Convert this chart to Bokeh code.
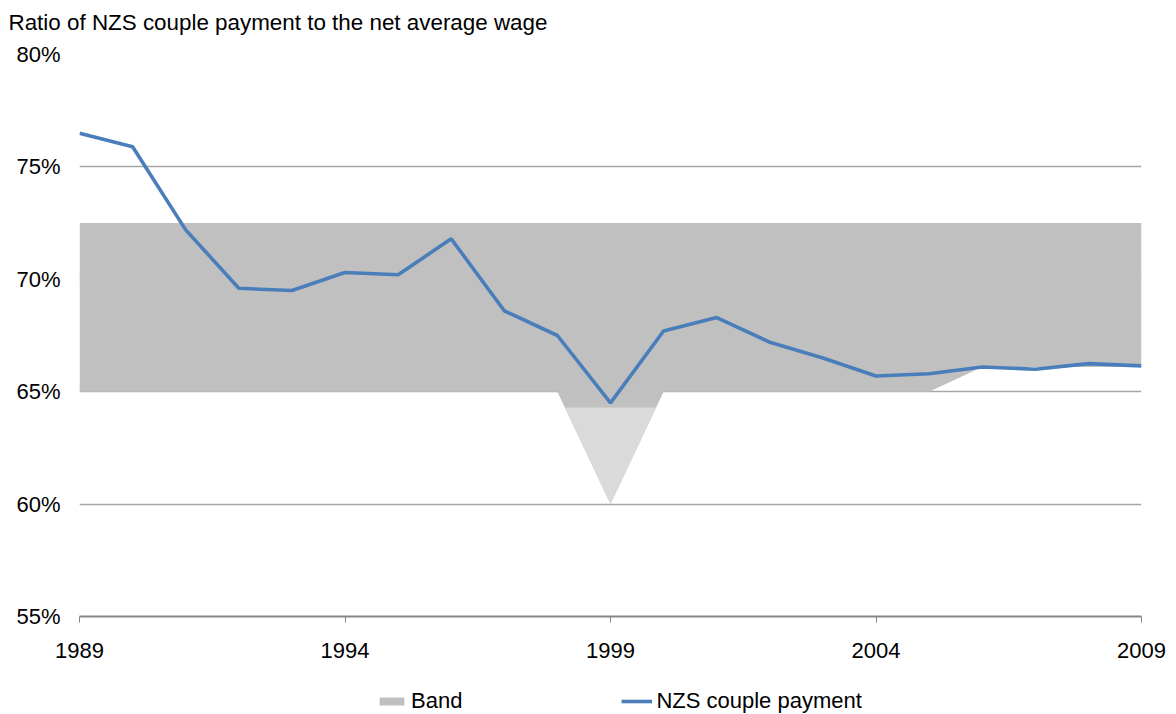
from bokeh.plotting import figure
from bokeh.layouts import column
from bokeh.models import (Range1d, FixedTicker, PrintfTickFormatter, Legend, LegendItem,
                          Title, ColumnDataSource)
from bokeh.embed import file_html
from bokeh.resources import INLINE

# ---- data ----
years = list(range(1989, 2010))
nzs_payment = [76.5, 75.9, 72.2, 69.6, 69.5, 70.3, 70.2, 71.8, 68.6, 67.5, 64.5,
               67.7, 68.3, 67.2, 66.5, 65.7, 65.8, 66.1, 66.0, 66.25, 66.15]
band_upper = [72.5] * 21
band_lower = [65.0, 65.0, 65.0, 65.0, 65.0, 65.0, 65.0, 65.0, 65.0, 65.0, 60.0,
              65.0, 65.0, 65.0, 65.0, 65.0, 65.0, 66.1, 66.1, 66.1, 66.1]
light_threshold = 64.3
x_ticks = [1989, 1994, 1999, 2004, 2009]
y_ticks = [55, 60, 65, 70, 75, 80]
title_text = "Ratio of NZS couple payment to the net average wage"
legend_labels = ["Band", "NZS couple payment"]

FONT = "Liberation Sans"
FS = "22px"
BAND_C = "#C0C0C0"
LINE_C = "#4A7EBB"

# ---- title strip ----
tf = figure(width=1176, height=40, output_backend="svg", toolbar_location=None,
            x_range=Range1d(0, 1), y_range=Range1d(0, 1),
            min_border_left=79, min_border_right=35, min_border_top=39, min_border_bottom=0)
tf.axis.visible = False
tf.grid.visible = False
tf.outline_line_color = None
tf.add_layout(Title(text=title_text, align="left", vertical_align="bottom", offset=-71,
                    standoff=10, text_font=FONT, text_font_size="22.4px",
                    text_font_style="normal", text_color="black"), "above")

# ---- main chart ----
p = figure(width=1176, height=640, output_backend="svg", toolbar_location=None,
           x_range=Range1d(1989, 2009), y_range=Range1d(55, 80),
           min_border_left=79, min_border_right=35, min_border_top=14, min_border_bottom=64)
p.outline_line_color = None
p.background_fill_color = "white"

# band
src = ColumnDataSource(dict(x=years, lo=band_lower, hi=band_upper))
band = p.varea(x="x", y1="lo", y2="hi", source=src, fill_color=BAND_C)

# lighter part of band below threshold (clip segments)
px, py = [], []
for i in range(len(years) - 1):
    x0, x1 = years[i], years[i + 1]
    y0, y1 = band_lower[i], band_lower[i + 1]
    b0, b1 = y0 < light_threshold, y1 < light_threshold
    if b0 != b1:
        xc = x0 + (light_threshold - y0) / (y1 - y0) * (x1 - x0)
        px.append(xc); py.append(light_threshold)
    if b1:
        px.append(x1); py.append(y1)
if px:
    p.patch(px, py, fill_color="#DADADA", line_color=None)

line = p.line(years, nzs_payment, line_color=LINE_C, line_width=3.6)

# axes
p.xaxis.ticker = FixedTicker(ticks=x_ticks)
p.xaxis.axis_line_color = "#868686"
p.xaxis.axis_line_width = 2
p.xaxis.major_tick_line_color = "#868686"
p.xaxis.major_tick_out = 6
p.xaxis.major_tick_in = 0
p.xaxis.minor_tick_line_color = None
p.xaxis.major_label_standoff = 20
p.xaxis.major_label_text_font = FONT
p.xaxis.major_label_text_font_size = FS
p.xaxis.major_label_text_color = "black"

p.yaxis.ticker = FixedTicker(ticks=y_ticks)
p.yaxis.formatter = PrintfTickFormatter(format="%d%%")
p.yaxis.axis_line_color = None
p.yaxis.major_tick_line_color = None
p.yaxis.minor_tick_line_color = None
p.yaxis.major_tick_out = 0
p.yaxis.major_label_standoff = 19
p.yaxis.major_label_text_font = FONT
p.yaxis.major_label_text_font_size = FS
p.yaxis.major_label_text_color = "black"

p.xgrid.grid_line_color = None
p.ygrid.grid_line_color = "#A6A6A6"
p.ygrid.grid_line_width = 1.3

# ---- legend strip (separate figure so the legend is not clipped) ----
lg = figure(width=1176, height=34, output_backend="svg", toolbar_location=None,
            x_range=Range1d(0, 1), y_range=Range1d(0, 1),
            min_border_left=0, min_border_right=0, min_border_top=0, min_border_bottom=0)
lg.axis.visible = False
lg.grid.visible = False
lg.outline_line_color = None
# legend-only renderers, placed outside the visible range
lb = lg.varea(x=[5, 6], y1=[5, 5], y2=[6, 6], fill_color=BAND_C)
ll = lg.line(x=[5, 6], y=[5, 5], line_color=LINE_C, line_width=3.6)
legend = Legend(items=[LegendItem(label=legend_labels[0], renderers=[lb]),
                       LegendItem(label=legend_labels[1], renderers=[ll])],
                orientation="horizontal", location=(297, 0),
                glyph_width=31, glyph_height=10, label_standoff=4, spacing=159,
                padding=0, margin=0, border_line_alpha=0, background_fill_alpha=0,
                label_text_font=FONT, label_text_font_size=FS, label_text_color="black")
lg.add_layout(legend, "center")

layout = column(tf, p, lg, spacing=0)
open("out.html", "w").write(file_html(layout, INLINE))
